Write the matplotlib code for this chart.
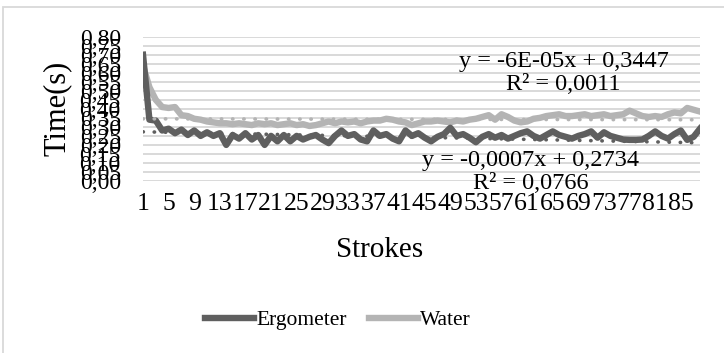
import matplotlib.pyplot as plt
import numpy as np
from matplotlib.patches import Rectangle
from matplotlib.lines import Line2D

plt.rcParams['font.family'] = ['Liberation Serif', 'DejaVu Serif']

# stroke times (s)
ergometer = [0.70, 0.34, 0.335, 0.28, 0.29, 0.265, 0.285, 0.255, 0.28, 0.25,
             0.27, 0.25, 0.265, 0.20, 0.255, 0.235, 0.265, 0.23, 0.255, 0.20,
             0.25, 0.22, 0.255, 0.22, 0.25, 0.23, 0.245, 0.255, 0.23, 0.21,
             0.25, 0.28, 0.25, 0.26, 0.23, 0.22, 0.28, 0.25, 0.26, 0.235,
             0.22, 0.28, 0.25, 0.265, 0.24, 0.22, 0.245, 0.26, 0.295, 0.25,
             0.26, 0.24, 0.215, 0.245, 0.26, 0.24, 0.255, 0.235, 0.25, 0.265,
             0.275, 0.25, 0.235, 0.255, 0.275, 0.255, 0.245, 0.235, 0.25, 0.26,
             0.275, 0.24, 0.27, 0.25, 0.24, 0.23, 0.228, 0.228, 0.23, 0.25,
             0.275, 0.25, 0.235, 0.26, 0.28, 0.228, 0.245, 0.29]
water = [0.64, 0.52, 0.45, 0.41, 0.405, 0.41, 0.365, 0.36, 0.345, 0.34,
         0.33, 0.325, 0.32, 0.32, 0.315, 0.32, 0.315, 0.31, 0.32, 0.315,
         0.32, 0.31, 0.315, 0.32, 0.31, 0.315, 0.305, 0.31, 0.32, 0.33,
         0.32, 0.33, 0.325, 0.33, 0.32, 0.33, 0.335, 0.335, 0.345, 0.34,
         0.33, 0.325, 0.31, 0.32, 0.33, 0.33, 0.335, 0.33, 0.325, 0.335,
         0.33, 0.34, 0.345, 0.355, 0.365, 0.34, 0.37, 0.355, 0.335, 0.325,
         0.33, 0.345, 0.35, 0.36, 0.365, 0.37, 0.36, 0.36, 0.365, 0.37,
         0.36, 0.365, 0.37, 0.36, 0.365, 0.37, 0.39, 0.375, 0.36, 0.355,
         0.36, 0.355, 0.37, 0.38, 0.375, 0.405, 0.395, 0.385]
strokes = np.arange(1, len(ergometer) + 1)

# linear trendlines (Excel)
erg_slope, erg_intercept = -0.0007, 0.2734
water_slope, water_intercept = -6e-05, 0.3447
erg_label = 'y = -0,0007x + 0,2734\nR² = 0,0766'
water_label = 'y = -6E-05x + 0,3447\nR² = 0,0011'

x_ticks = list(range(1, 86, 4))
y_ticks = [0.00, 0.05, 0.10, 0.15, 0.20, 0.25, 0.30, 0.35, 0.40,
           0.45, 0.50, 0.55, 0.60, 0.65, 0.70, 0.75, 0.80]

dark = '#5f5f5f'
light = '#b4b4b4'

fig = plt.figure(figsize=(7.24, 3.53), dpi=100)
ax = fig.add_axes([143/724, 1-181/353, 557/724, 144.3/353])

# chart border
fig.patches.append(Rectangle((3/724, -0.05), 1.1, 1-7/353+0.05, transform=fig.transFigure,
                             fill=False, ec='#d9d9d9', lw=1.3))

for t in y_ticks:
    ax.axhline(t, color='#d9d9d9', lw=1.4, zorder=0)

ax.plot(strokes, water, color=light, lw=4.6, solid_joinstyle='round', zorder=2)
ax.plot(strokes, ergometer, color=dark, lw=4.6, solid_joinstyle='round', zorder=3)

ax.plot(strokes, water_intercept + water_slope*strokes, color=light, lw=2.6,
        linestyle=(0, (0.1, 3.0)), dash_capstyle='round', zorder=4)
ax.plot(strokes, erg_intercept + erg_slope*strokes, color=dark, lw=2.6,
        linestyle=(0, (0.1, 3.0)), dash_capstyle='round', zorder=4)

ax.text(66.7, 0.60, water_label, ha='center', va='center', fontsize=17.5,
        linespacing=1.1, zorder=5)
ax.text(61.5, 0.05, erg_label, ha='center', va='center', fontsize=17.5,
        linespacing=1.1, zorder=5, clip_on=False)

ax.set_xlim(1, len(strokes))
ax.set_ylim(0, 0.8)
ax.set_xticks(x_ticks)
ax.set_xticklabels([str(v) for v in x_ticks], fontsize=18.5)
ax.set_yticks(y_ticks)
ax.set_yticklabels([('%.2f' % v).replace('.', ',') for v in y_ticks], fontsize=17)
ax.tick_params(axis='both', length=0)
ax.tick_params(axis='y', pad=16)
ax.tick_params(axis='x', pad=9)
for s in ax.spines.values():
    s.set_visible(False)

ax.set_ylabel('Time(s)', fontsize=22, va='center')
ax.yaxis.set_label_coords((57-143)/557, 0.5)
ax.set_xlabel('Strokes', fontsize=21, va='center')
ax.xaxis.set_label_coords((380-143)/557, (181-250)/144.3)

handles = [Line2D([], [], color=dark, lw=4.6), Line2D([], [], color=light, lw=4.6)]
fig.legend(handles, ['Ergometer', 'Water'], loc='center', ncol=2, frameon=False,
           bbox_to_anchor=(338/724, 1-320/353), fontsize=15.5, handlelength=2.3,
           handletextpad=0.1, columnspacing=1.0)

fig.savefig('out.png', dpi=100)
